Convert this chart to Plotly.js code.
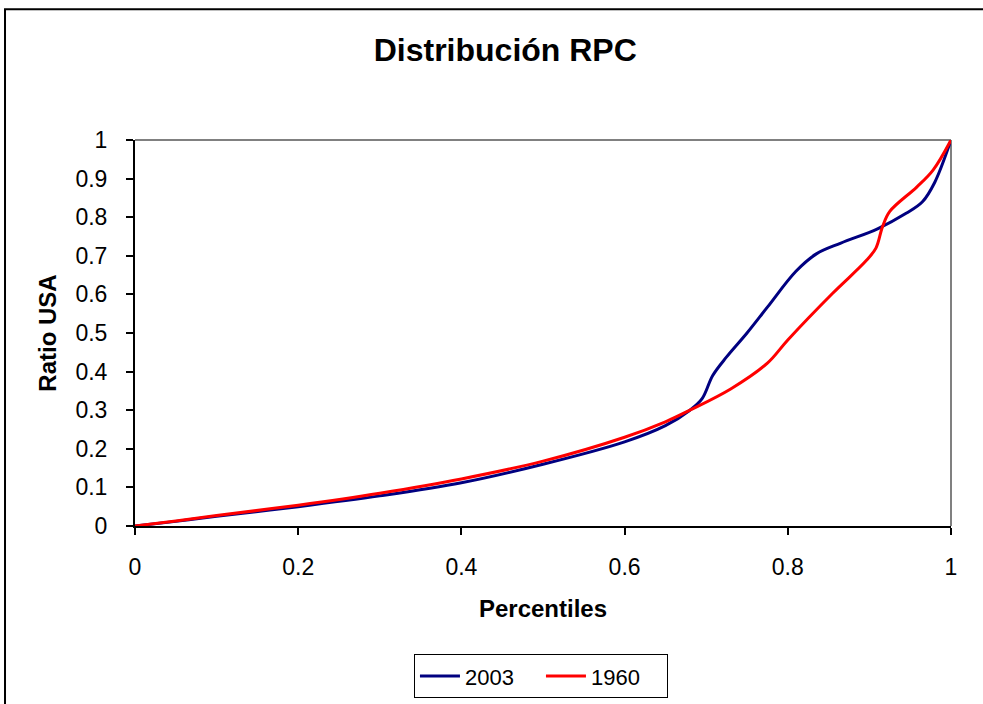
<!DOCTYPE html>
<html>
<head>
<meta charset="utf-8">
<script src="https://cdn.plot.ly/plotly-3.0.1.min.js"></script>
<style>html,body{margin:0;padding:0;background:#fff;}#chart{width:983px;height:704px;}</style>
</head>
<body>
<div id="chart"></div>
<script>
const titleText = "Distribución RPC";
const xTitle = "Percentiles";
const yTitle = "Ratio USA";
const tickVals = [0, 0.2, 0.4, 0.6, 0.8, 1];
const tickLabels = ["0", "0.2", "0.4", "0.6", "0.8", "1"];
const yTickVals = [0, 0.1, 0.2, 0.3, 0.4, 0.5, 0.6, 0.7, 0.8, 0.9, 1];
const yTickLabels = ["0", "0.1", "0.2", "0.3", "0.4", "0.5", "0.6", "0.7", "0.8", "0.9", "1"];

const pct2003 = [0, 0.05, 0.1, 0.2, 0.3, 0.4, 0.5, 0.6, 0.65, 0.68, 0.695, 0.708, 0.725, 0.75, 0.775, 0.81, 0.835, 0.865, 0.91, 0.945, 0.965, 0.98, 1];
const ratio2003 = [0, 0.012, 0.025, 0.05, 0.078, 0.112, 0.16, 0.218, 0.26, 0.30, 0.33, 0.39, 0.438, 0.50, 0.567, 0.66, 0.705, 0.733, 0.77, 0.81, 0.84, 0.89, 1];

const pct1960 = [0, 0.05, 0.1, 0.2, 0.3, 0.4, 0.5, 0.6, 0.65, 0.68, 0.73, 0.775, 0.8, 0.855, 0.895, 0.908, 0.916, 0.925, 0.958, 0.978, 1];
const ratio1960 = [0, 0.013, 0.027, 0.054, 0.085, 0.122, 0.168, 0.23, 0.27, 0.30, 0.355, 0.422, 0.482, 0.603, 0.685, 0.72, 0.775, 0.815, 0.878, 0.922, 1];

const FONT = "Liberation Sans, Arial, sans-serif";

const traces = [
  {x: pct2003, y: ratio2003, name: "2003", type: "scatter", mode: "lines",
   line: {color: "#000080", width: 3, shape: "spline", smoothing: 1}},
  {x: pct1960, y: ratio1960, name: "1960", type: "scatter", mode: "lines",
   line: {color: "#FF0000", width: 3, shape: "spline", smoothing: 1}}
];

const layout = {
  width: 983, height: 704,
  margin: {l: 135, r: 32, t: 140, b: 178, autoexpand: false},
  paper_bgcolor: "#fff", plot_bgcolor: "#fff",
  font: {family: FONT, color: "#000", size: 22},
  title: {text: "<b>" + titleText + "</b>", font: {family: FONT, size: 32, color: "#000"},
          x: 0.514, xanchor: "center", xref: "container", y: 0.929, yanchor: "middle", yref: "container"},
  xaxis: {
    range: [0, 1], tickvals: tickVals, ticktext: tickLabels, automargin: false,
    showgrid: false, zeroline: false, showline: true, linecolor: "#000", linewidth: 2,
    ticks: "outside", ticklen: 7, tickwidth: 2, tickcolor: "#000",
    tickfont: {family: FONT, size: 23, color: "#000"}, ticklabelstandoff: 12,
    title: {text: "<b>" + xTitle + "</b>", font: {family: FONT, size: 24, color: "#000"}, standoff: 22}
  },
  yaxis: {
    range: [0, 1], tickvals: yTickVals, ticktext: yTickLabels, automargin: false,
    showgrid: false, zeroline: false, showline: true, linecolor: "#000", linewidth: 2,
    ticks: "outside", ticklen: 7, tickwidth: 2, tickcolor: "#000",
    tickfont: {family: FONT, size: 23, color: "#000"}, ticklabelstandoff: 14,
    title: {text: "<b>" + yTitle + "</b>", font: {family: FONT, size: 24, color: "#000"}, standoff: 12}
  },
  showlegend: true,
  legend: {orientation: "h", x: 0.4975, xanchor: "center", y: -0.332, yanchor: "top",
           bordercolor: "#000", borderwidth: 1, bgcolor: "#fff",
           font: {family: FONT, size: 22, color: "#000"}, itemwidth: 40, entrywidth: 71},
  shapes: [
    {type: "line", xref: "paper", yref: "paper", x0: 0, x1: 1, y0: 1, y1: 1, line: {color: "#808080", width: 2}, layer: "below"},
    {type: "line", xref: "paper", yref: "paper", x0: 1, x1: 1, y0: 0, y1: 1, line: {color: "#808080", width: 2}, layer: "below"},
    {type: "rect", xref: "paper", yref: "paper", x0: -0.1593, x1: 1.06, y0: -0.5, y1: 1.339, line: {color: "#000", width: 2}, fillcolor: "rgba(0,0,0,0)"}
  ]
};

Plotly.newPlot("chart", traces, layout, {displayModeBar: false, staticPlot: true});
</script>
</body>
</html>
